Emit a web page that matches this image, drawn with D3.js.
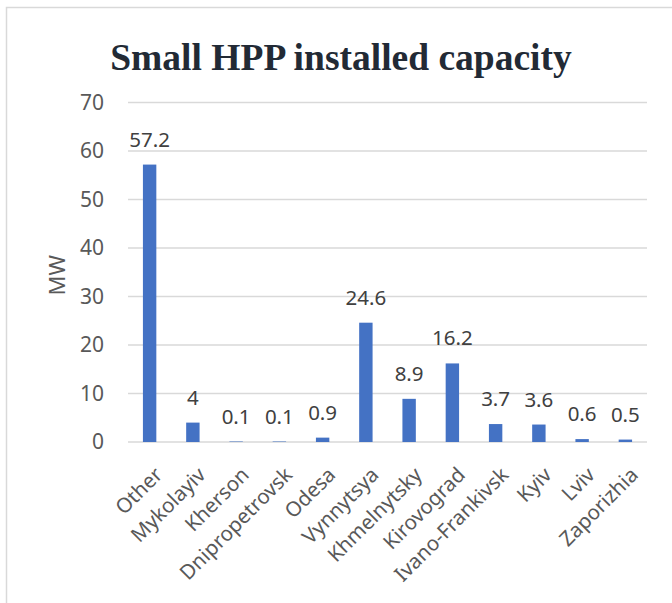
<!DOCTYPE html>
<html>
<head>
<meta charset="utf-8">
<script src="https://cdn.jsdelivr.net/npm/d3@7"></script>
<style>
  html, body { margin: 0; padding: 0; background: #fff; }
  svg { display: block; }
</style>
</head>
<body>
<svg id="chart" width="672" height="603"></svg>
<script>
const categories = ["Other", "Mykolayiv", "Kherson", "Dnipropetrovsk", "Odesa", "Vynnytsya",
  "Khmelnytsky", "Kirovograd", "Ivano-Frankivsk", "Kyiv", "Lviv", "Zaporizhia"];
const values = [57.2, 4, 0.1, 0.1, 0.9, 24.6, 8.9, 16.2, 3.7, 3.6, 0.6, 0.5];
const yTicks = [0, 10, 20, 30, 40, 50, 60, 70];
const titleText = "Small HPP installed capacity";
const yAxisTitle = "MW";

(function () {
const svg = d3.select("#chart");
const mLeft = 128, mRight = 647, mTop = 102.5, mBottom = 442;
const font = "'Noto Sans', sans-serif";

// frame
svg.append("rect").attr("x", 6.5).attr("y", 7.5).attr("width", 720).attr("height", 700)
  .attr("fill", "none").attr("stroke", "#d9d9d9").attr("stroke-width", 1.5);

const x = d3.scaleBand().domain(categories).range([mLeft, mRight]).paddingInner(0.69).paddingOuter(0.345);
const y = d3.scaleLinear().domain([0, 70]).range([mBottom, mTop]);

// gridlines
svg.append("g").selectAll("line").data(yTicks).join("line")
  .attr("x1", mLeft).attr("x2", mRight)
  .attr("y1", d => y(d)).attr("y2", d => y(d))
  .attr("stroke", "#d9d9d9").attr("stroke-width", 1.3);

// y axis labels
const yAxis = d3.axisLeft(y).tickValues(yTicks).tickSize(0).tickPadding(0).tickFormat(d3.format("d"));
const yg = svg.append("g").attr("transform", `translate(${mLeft - 24},0)`).call(yAxis);
yg.select(".domain").remove();
yg.selectAll("text").attr("font-family", font).attr("font-size", 21)
  .attr("fill", "#595959");

// bars
svg.append("g").selectAll("rect").data(values).join("rect")
  .attr("x", (d, i) => x(categories[i]))
  .attr("width", x.bandwidth())
  .attr("y", d => y(d))
  .attr("height", d => y(0) - y(d))
  .attr("fill", "#4472c4");

// data labels
svg.append("g").selectAll("text").data(values).join("text")
  .attr("x", (d, i) => x(categories[i]) + x.bandwidth() / 2)
  .attr("y", d => y(d) - 18)
  .attr("text-anchor", "middle")
  .attr("font-family", font).attr("font-size", 20.5)
  .attr("fill", "#404040")
  .text(d => String(d));

// category labels
svg.append("g").selectAll("text").data(categories).join("text")
  .attr("transform", d => `translate(${x(d) + x.bandwidth() / 2 + 9},${mBottom + 29}) rotate(-45)`)
  .attr("text-anchor", "end")
  .attr("dy", "0.35em")
  .attr("font-family", font).attr("font-size", 20.5)
  .attr("fill", "#595959")
  .text(d => d);

// y axis title
svg.append("text")
  .attr("transform", `translate(65,${(mTop + mBottom) / 2 + 3}) rotate(-90)`)
  .attr("text-anchor", "middle")
  .attr("font-family", font).attr("font-size", 22)
  .attr("fill", "#595959")
  .text(yAxisTitle);

// title
svg.append("text")
  .attr("x", 341).attr("y", 70)
  .attr("text-anchor", "middle")
  .attr("font-family", "'Liberation Serif', 'Times New Roman', serif")
  .attr("font-weight", "bold").attr("font-size", 37.5)
  .attr("fill", "#222a35")
  .text(titleText);
})();
</script>
</body>
</html>
